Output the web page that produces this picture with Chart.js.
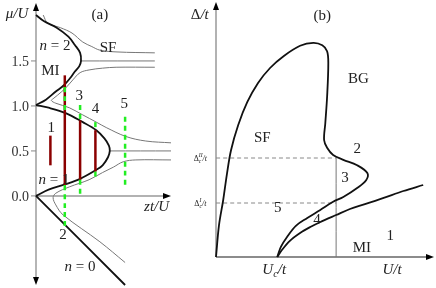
<!DOCTYPE html>
<html>
<head>
<meta charset="utf-8">
<script src="https://cdn.jsdelivr.net/npm/chart.js@4/dist/chart.umd.min.js"></script>
<style>
body { margin: 0; background: #fff; }
#wrap { position: relative; width: 436px; height: 288px; overflow: hidden; }
canvas { position: absolute; top: 0; }
</style>
</head>
<body>
<div id="wrap">
  <canvas id="chartA" width="215" height="288" style="left:0"></canvas>
  <canvas id="chartB" width="256" height="288" style="left:180px"></canvas>
</div>
<script>
// ---------- panel (a): mu/U against zt/U ----------
const muTicks = [0.0, 0.5, 1.0, 1.5];

const lobeTwo = [[0,2.01],[0.09,1.94],[0.23,1.87],[0.36,1.77],[0.43,1.68],[0.49,1.59],[0.50,1.50],
  [0.48,1.44],[0.43,1.38],[0.38,1.31],[0.31,1.23],[0.22,1.16],[0.11,1.07],[0,1.01]];
const lobeOne = [[0,1.01],[0.14,0.98],[0.33,0.92],[0.52,0.82],[0.67,0.73],[0.76,0.64],[0.81,0.56],[0.82,0.50],
  [0.80,0.43],[0.74,0.34],[0.67,0.29],[0.49,0.19],[0.33,0.13],[0.14,0.07],[0,0]];
const lobeZero = [[0,0],[0.99,-0.99]];

const thinTop = [[0.08,2.01],[0.13,1.92],[0.27,1.87],[0.40,1.81],[0.52,1.71],[0.62,1.66],[0.71,1.62],[0.90,1.60],[1.32,1.59]];
const thinHalf2 = [[0.50,1.50],[1.32,1.50]];
const thinBend1 = [[1.32,1.43],[0.89,1.43],[0.74,1.42],[0.59,1.40],[0.49,1.37],[0.41,1.29],[0.33,1.20],[0.24,1.12],
  [0.19,1.08],[0.17,1.06],[0.22,1.03],[0.37,0.98],[0.52,0.90],[0.67,0.82],[0.78,0.76],[1.00,0.66],[1.22,0.61],[1.50,0.59]];
const thinHalf1 = [[0.82,0.50],[1.50,0.50]];
const thinBend0 = [[1.50,0.40],[1.11,0.40],[0.97,0.38],[0.86,0.32],[0.74,0.26],[0.59,0.18],[0.37,0.10],[0.22,0.03],
  [0.19,-0.02],[0.22,-0.10],[0.30,-0.21],[0.71,-0.51],[0.99,-0.74]];

// vertical cuts: [zt/U, top, bottom]
const disorderBars = [[0.16,0.67,0.34],[0.32,1.34,0.12],[0.49,0.84,0.18],[0.66,0.73,0.27]];
const sfBars = [[0.32,1.21,0.92],[0.32,0.12,-0.34],[0.49,1.01,0.84],[0.49,0.18,0.00],
  [0.66,0.82,0.73],[0.66,0.27,0.18],[0.99,0.88,0.12]];

// ---------- panel (b): Delta/t against U/t ----------
const sfDome = [[0,0],[0.5,5.3],[1.2,9.5],[1.8,13.7],[2.5,17.8],[3.7,22],[5.2,25.8],[7,29],[9,31.5],[11.3,33.5],
  [14,35.2],[16.2,35.7],[17.7,35.3],[18.5,34.3],[18.7,32.3],[18.5,26.7],[18.2,22.3],[18,19.5],[18.5,18.2],
  [19.5,17],[21.2,16.2],[23.5,15.3],[25.2,14],[25,12.8],[23.5,11.5],[21.2,10],[19.5,9.2],[17.3,7.8],
  [15.2,6.5],[13.3,5.2],[11.8,3.3],[10.8,1.7],[10.2,0]];
const mottEdge = [[10.2,0],[11,1.2],[12.3,2.7],[14,4],[15.7,5],[17.3,5.8],[20,7],[22.3,8],[24.8,8.8],
  [27.8,9.8],[31.2,11],[34.5,12]];
const deltaCrit = [16.5, 9.0];   // Delta_c^II, Delta_c^I
const uCut = 20;

const SERIF = '"Liberation Serif", "DejaVu Serif", serif';
const TXT = '#222';

const labelsA = [
  {x:-0.21, y:2.04, parts:[['μ/U',1]]},
  {x:0.71, y:2.03, parts:[['(a)',0]]},
  {x:0.21, y:1.68, parts:[['n',1],[' = 2',0]]},
  {x:0.80, y:1.66, parts:[['SF',0]]},
  {x:0.16, y:1.40, parts:[['MI',0]]},
  {x:0.17, y:0.77, parts:[['1',0]]},
  {x:0.48, y:1.12, parts:[['3',0]]},
  {x:0.66, y:0.98, parts:[['4',0]]},
  {x:0.98, y:1.03, parts:[['5',0]]},
  {x:0.20, y:0.19, parts:[['n',1],[' = 1',0]]},
  {x:0.30, y:-0.42, parts:[['2',0]]},
  {x:1.34, y:-0.11, parts:[['zt/U',1]]},
  {x:0.49, y:-0.78, parts:[['n',1],[' = 0',0]]}
];
const labelsB = [
  {x:-2.7, y:40.5, parts:[['Δ',0],['/t',1]]},
  {x:17.7, y:40.3, parts:[['(b)',0]]},
  {x:23.7, y:29.8, parts:[['BG',0]]},
  {x:7.7, y:20, parts:[['SF',0]]},
  {x:23.5, y:18.2, parts:[['2',0]]},
  {x:21.5, y:13.3, parts:[['3',0]]},
  {x:10.3, y:8.3, parts:[['5',0]]},
  {x:16.8, y:6.4, parts:[['4',0]]},
  {x:29, y:3.7, parts:[['1',0]]},
  {x:24.3, y:1.7, parts:[['MI',0]]},
  {x:9.7, y:-1.9, parts:[['U',1],['c','i','sub'],['/t',1]]},
  {x:29.3, y:-1.9, parts:[['U/t',1]]},
  {x:-2.6, y:16.5, size:8, parts:[['Δ',0],[['c','II'],1,'ss'],['/t',1]]},
  {x:-2.6, y:9.0, size:8, parts:[['Δ',0],[['c','I'],1,'ss'],['/t',1]]}
];

function fontFor(size, italic) {
  return (italic ? 'italic ' : '') + size + 'px ' + SERIF;
}

function drawRich(ctx, parts, cx, cy, size) {
  const pieces = parts.map(function(p) {
    const pos = p[2];
    const fs = pos ? size * 0.7 : size;
    ctx.font = fontFor(fs, p[1]);
    let w;
    if (pos === 'ss') w = Math.max(ctx.measureText(p[0][0]).width, ctx.measureText(p[0][1]).width);
    else w = ctx.measureText(p[0]).width;
    return {text: p[0], italic: p[1], pos: pos, fs: fs, w: w};
  });
  const total = pieces.reduce(function(s, p) { return s + p.w; }, 0);
  let x = cx - total / 2;
  const base = cy + size * 0.35;
  ctx.textAlign = 'left';
  ctx.textBaseline = 'alphabetic';
  pieces.forEach(function(p) {
    ctx.font = fontFor(p.fs, p.italic);
    if (p.pos === 'ss') {
      ctx.fillText(p.text[0], x, base + size * 0.25);
      ctx.fillText(p.text[1], x, base - size * 0.5);
    } else if (p.pos === 'sub') {
      ctx.fillText(p.text, x, base + size * 0.25);
    } else {
      ctx.fillText(p.text, x, base);
    }
    x += p.w;
  });
}

function arrow(ctx, x, y, dir) {
  const L = 8, W = 3;
  ctx.beginPath();
  if (dir === 'up') { ctx.moveTo(x, y); ctx.lineTo(x - W, y + L); ctx.lineTo(x + W, y + L); }
  if (dir === 'down') { ctx.moveTo(x, y); ctx.lineTo(x - W, y - L); ctx.lineTo(x + W, y - L); }
  if (dir === 'right') { ctx.moveTo(x, y); ctx.lineTo(x - L, y - W); ctx.lineTo(x - L, y + W); }
  ctx.closePath();
  ctx.fillStyle = '#000';
  ctx.fill();
}

const panelDecor = {
  id: 'panelDecor',
  beforeDatasetsDraw(chart, args, o) {
    const ctx = chart.ctx, a = chart.chartArea;
    const xs = chart.scales.x, ys = chart.scales.y;
    const x0 = xs.getPixelForValue(0), y0 = ys.getPixelForValue(0);
    ctx.save();
    ctx.strokeStyle = o.yAxisColor; ctx.lineWidth = o.yAxisWidth;
    ctx.beginPath(); ctx.moveTo(x0, o.downArrow ? a.bottom - 4 : y0); ctx.lineTo(x0, a.top + 4); ctx.stroke();
    ctx.strokeStyle = o.xAxisColor; ctx.lineWidth = o.xAxisWidth;
    ctx.beginPath(); ctx.moveTo(x0, y0); ctx.lineTo(a.right - 4, y0); ctx.stroke();
    arrow(ctx, x0, a.top, 'up');
    if (o.downArrow) arrow(ctx, x0, a.bottom, 'down');
    arrow(ctx, a.right, y0, 'right');
    (o.ticks || []).forEach(function(v) {
      const py = ys.getPixelForValue(v);
      ctx.strokeStyle = '#888'; ctx.lineWidth = 1;
      ctx.beginPath(); ctx.moveTo(x0 - 5, py); ctx.lineTo(x0, py); ctx.stroke();
      ctx.fillStyle = '#333';
      ctx.font = fontFor(14, 0);
      ctx.textAlign = 'right'; ctx.textBaseline = 'middle';
      ctx.fillText(v.toFixed(1), x0 - 7, py + 1);
    });
    ctx.restore();
  },
  afterDatasetsDraw(chart, args, o) {
    const ctx = chart.ctx;
    const xs = chart.scales.x, ys = chart.scales.y;
    ctx.save();
    ctx.fillStyle = TXT;
    (o.labels || []).forEach(function(l) {
      drawRich(ctx, l.parts, xs.getPixelForValue(l.x), ys.getPixelForValue(l.y), l.size || 15);
    });
    ctx.restore();
  }
};

function pts(arr) {
  return arr.map(function(p) { return {x: p[0], y: p[1]}; });
}
function curve(arr, color, width, order, dash) {
  return {
    data: pts(arr), showLine: true, borderColor: color, borderWidth: width,
    pointRadius: 0, tension: 0.35, fill: false, clip: false, order: order,
    borderDash: dash || []
  };
}
function bar(b, color, width, order, dash) {
  return curve([[b[0], b[1]], [b[0], b[2]]], color, width, order, dash);
}

function baseOptions(pad, xr, yr, decor) {
  return {
    responsive: false,
    animation: false,
    layout: {padding: pad},
    plugins: {legend: {display: false}, tooltip: {enabled: false}, panelDecor: decor},
    scales: {
      x: {type: 'linear', min: xr[0], max: xr[1], display: false},
      y: {type: 'linear', min: yr[0], max: yr[1], display: false}
    }
  };
}

// panel (a)
const dsA = [];
sfBars.forEach(function(b) { dsA.push(bar(b, '#22ee22', 2.5, 0, [5, 4])); });
disorderBars.forEach(function(b) { dsA.push(bar(b, '#8b0000', 2.5, 1)); });
[lobeTwo, lobeOne, lobeZero].forEach(function(c) { dsA.push(curve(c, '#111', 1.8, 2)); });
[thinTop, thinHalf2, thinBend1, thinHalf1, thinBend0].forEach(function(c) { dsA.push(curve(c, '#777', 1, 3)); });

new Chart(document.getElementById('chartA'), {
  type: 'scatter',
  data: {datasets: dsA},
  options: baseOptions({left: 36, right: 44, top: 3, bottom: 3}, [0, 1.5], [-0.99, 2.144], {
    yAxisColor: '#b5b5b5', yAxisWidth: 2, xAxisColor: '#999', xAxisWidth: 1.5,
    downArrow: true, ticks: muTicks, labels: labelsA
  }),
  plugins: [panelDecor]
});

// panel (b)
const dsB = [];
deltaCrit.forEach(function(d) { dsB.push(curve([[0, d], [uCut, d]], '#888', 1, 3, [4, 3])); });
dsB.push(curve([[uCut, deltaCrit[0]], [uCut, 0]], '#777', 1, 3));
dsB.push(curve(sfDome, '#111', 1.8, 1));
dsB.push(curve(mottEdge, '#111', 1.8, 1));

new Chart(document.getElementById('chartB'), {
  type: 'scatter',
  data: {datasets: dsB},
  options: baseOptions({left: 36, right: 2, top: 2, bottom: 31}, [0, 36.3], [0, 42.5], {
    yAxisColor: '#999', yAxisWidth: 1.5, xAxisColor: '#666', xAxisWidth: 1.5,
    downArrow: false, labels: labelsB
  }),
  plugins: [panelDecor]
});
</script>
</body>
</html>
